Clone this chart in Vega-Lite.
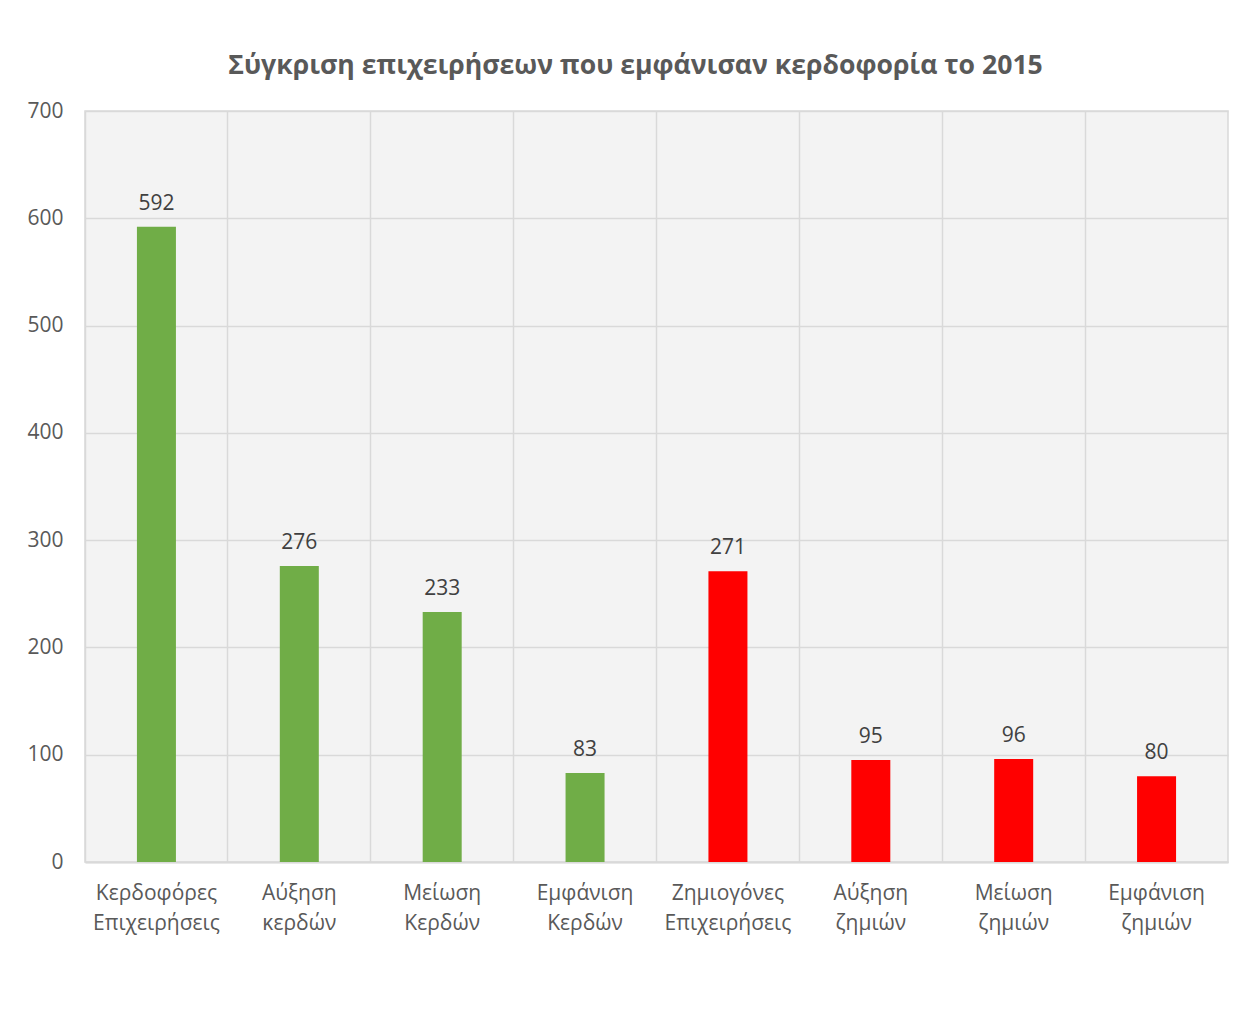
{
  "$schema": "https://vega.github.io/schema/vega-lite/v6.json",
  "width": 1143,
  "height": 751,
  "autosize": {"type": "none"},
  "padding": {"left": 85, "top": 111, "right": 24, "bottom": 149},
  "background": "white",
  "title": {
    "text": "Σύγκριση επιχειρήσεων που εμφάνισαν κερδοφορία το 2015",
    "font": "Open Sans",
    "fontSize": 26.6,
    "fontWeight": "bold",
    "color": "#595959",
    "anchor": "middle",
    "dx": -21,
    "offset": 20
  },
  "data": {
    "values": [
      {"category": "Κερδοφόρες Επιχειρήσεις", "value": 592, "group": "profit"},
      {"category": "Αύξηση κερδών", "value": 276, "group": "profit"},
      {"category": "Μείωση Κερδών", "value": 233, "group": "profit"},
      {"category": "Εμφάνιση Κερδών", "value": 83, "group": "profit"},
      {"category": "Ζημιογόνες Επιχειρήσεις", "value": 271, "group": "loss"},
      {"category": "Αύξηση ζημιών", "value": 95, "group": "loss"},
      {"category": "Μείωση ζημιών", "value": 96, "group": "loss"},
      {"category": "Εμφάνιση ζημιών", "value": 80, "group": "loss"}
    ]
  },
  "config": {
    "view": {"stroke": "#d9d9d9", "strokeWidth": 1.5, "fill": "#f3f3f3"},
    "font": "Open Sans"
  },
  "encoding": {
    "x": {
      "field": "category",
      "type": "nominal",
      "sort": null,
      "scale": {"paddingInner": 0, "paddingOuter": 0},
      "axis": {
        "title": null,
        "labelAngle": 0,
        "labelExpr": "split(datum.label, ' ')",
        "labelFont": "Open Sans",
        "labelFontSize": 21,
        "labelColor": "#595959",
        "labelPadding": 20,
        "labelLineHeight": 30,
        "ticks": false,
        "domainColor": "#d9d9d9",
        "domainWidth": 2,
        "grid": true,
        "gridColor": "#d9d9d9",
        "gridWidth": 1.5,
        "bandPosition": 0
      }
    },
    "y": {
      "field": "value",
      "type": "quantitative",
      "scale": {"domain": [0, 700]},
      "axis": {
        "title": null,
        "values": [0, 100, 200, 300, 400, 500, 600, 700],
        "labelFont": "Open Sans",
        "labelFontSize": 21,
        "labelColor": "#595959",
        "labelPadding": 22,
        "ticks": false,
        "domain": false,
        "gridColor": "#d9d9d9",
        "gridWidth": 1.5
      }
    }
  },
  "layer": [
    {
      "mark": {"type": "bar", "width": {"band": 0.273}},
      "encoding": {
        "color": {
          "field": "group",
          "type": "nominal",
          "scale": {"domain": ["profit", "loss"], "range": ["#70ad47", "#ff0000"]},
          "legend": null
        }
      }
    },
    {
      "mark": {"type": "text", "baseline": "alphabetic", "dy": -17, "fontSize": 21, "color": "#404040", "font": "Open Sans"},
      "encoding": {"text": {"field": "value", "type": "quantitative"}}
    }
  ]
}
